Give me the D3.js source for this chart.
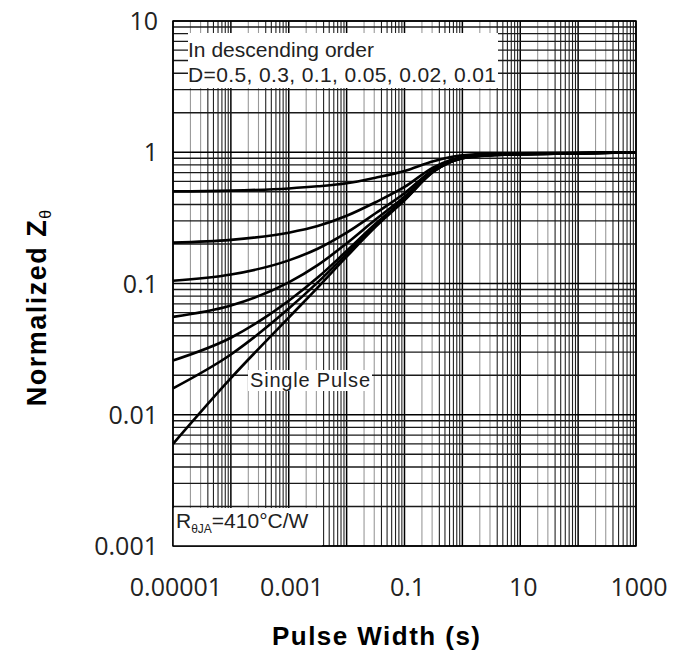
<!DOCTYPE html>
<html>
<head>
<meta charset="utf-8">
<script src="https://cdn.jsdelivr.net/npm/d3@7"></script>
<style>
  body { margin: 0; background: #fff; }
  .tick { font-family: "Open Sans", sans-serif; font-size: 25px; fill: #222; }
  .title { font-family: "Liberation Sans", Arial, sans-serif; font-weight: bold; fill: #000; }
  .note { font-family: "Liberation Sans", Arial, sans-serif; fill: #222; }
</style>
</head>
<body>
<script>
// pulse width (s) and normalized Z
var pulseWidth = [1e-5, 1e-4, 1e-3, 0.00316, 0.01, 0.0316, 0.1, 0.316, 1, 3.16, 10, 100, 1000]
var zD050 = [0.503, 0.51, 0.53, 0.55, 0.58, 0.64, 0.72, 0.855, 0.95, 0.975, 0.98, 0.99, 1.0]
var zD030 = [0.205, 0.215, 0.244, 0.274, 0.328, 0.416, 0.544, 0.768, 0.92, 0.96, 0.972, 0.984, 1.0]
var zD010 = [0.105, 0.117, 0.15, 0.184, 0.244, 0.343, 0.487, 0.739, 0.91, 0.955, 0.969, 0.982, 1.0]
var zD005 = [0.0557, 0.068, 0.102, 0.138, 0.202, 0.307, 0.459, 0.725, 0.905, 0.953, 0.967, 0.981, 1.0]
var zD002 = [0.0259, 0.0386, 0.0739, 0.111, 0.177, 0.285, 0.441, 0.716, 0.902, 0.951, 0.966, 0.98, 1.0]
var zD001 = [0.0159, 0.0288, 0.0645, 0.102, 0.168, 0.277, 0.436, 0.713, 0.901, 0.951, 0.965, 0.98, 1.0]
var zSingle = [0.006, 0.019, 0.055, 0.093, 0.16, 0.27, 0.43, 0.71, 0.9, 0.95, 0.965, 0.98, 1.0]

var xTicks = [1e-5, 1e-3, 0.1, 10, 1000]
var xTickLabels = ["0.00001", "0.001", "0.1", "10", "1000"]
var yTicks = [0.001, 0.01, 0.1, 1, 10]
var yTickLabels = ["0.001", "0.01", "0.1", "1", "10"]
var legendLines = ["In descending order", "D=0.5, 0.3, 0.1, 0.05, 0.02, 0.01"]

var margin = { top: 21, left: 173 },
    width = 463,
    height = 525

var svg = d3.select("body").append("svg")
    .attr("width", 689)
    .attr("height", 657)

var g = svg.append("g")
    .attr("transform", "translate(" + margin.left + "," + margin.top + ")")

var x = d3.scaleLog().domain([1e-5, 1000]).range([0, width])
var y = d3.scaleLog().domain([0.001, 10]).range([height, 0])

function isMajor(v) { return Math.abs(Math.log10(v) - Math.round(Math.log10(v))) < 1e-9 }
function lead(v) { return Math.round(v / Math.pow(10, Math.floor(Math.log10(v) + 1e-9))) }

// grid
g.selectAll(".vgrid")
    .data(x.ticks())
    .enter().append("line")
    .attr("class", "vgrid")
    .attr("x1", function(d) { return x(d) }).attr("x2", function(d) { return x(d) })
    .attr("y1", 0).attr("y2", height)
    .attr("stroke", function(d) { return isMajor(d) ? "#000" : (lead(d) < 4 ? "#999" : "#222") })
    .attr("stroke-width", function(d) { return isMajor(d) ? 1.5 : 1.1 })

g.selectAll(".hgrid")
    .data(y.ticks())
    .enter().append("line")
    .attr("class", "hgrid")
    .attr("y1", function(d) { return y(d) }).attr("y2", function(d) { return y(d) })
    .attr("x1", 0).attr("x2", width)
    .attr("stroke", function(d) { return isMajor(d) ? "#000" : "#1a1a1a" })
    .attr("stroke-width", function(d) { return isMajor(d) ? 1.5 : 1.3 })

// white label boxes
g.append("rect").attr("x", 15).attr("y", 12).attr("width", 310).attr("height", 55).attr("fill", "#fff")
g.append("rect").attr("x", 75).attr("y", 349).attr("width", 124).attr("height", 21).attr("fill", "#fff")
g.append("rect").attr("x", 0).attr("y", 487).attr("width", 149).attr("height", height - 487).attr("fill", "#fff")

// curves
var series = [zD050, zD030, zD010, zD005, zD002, zD001, zSingle]
var line = d3.line()
    .x(function(d, i) { return x(pulseWidth[i]) })
    .y(function(d) { return y(d) })
    .curve(d3.curveMonotoneX)

g.selectAll(".curve")
    .data(series)
    .enter().append("path")
    .attr("class", "curve")
    .attr("d", line)
    .attr("fill", "none")
    .attr("stroke", "#000")
    .attr("stroke-width", 2.6)

g.append("rect")
    .attr("width", width).attr("height", height)
    .attr("fill", "none").attr("stroke", "#000").attr("stroke-width", 1.5)

// tick labels
svg.selectAll(".ylab")
    .data(yTicks)
    .enter().append("text")
    .attr("class", "tick ylab")
    .attr("x", 158)
    .attr("y", function(d) { return margin.top + y(d) + 9 })
    .style("text-anchor", "end")
    .text(function(d, i) { return yTickLabels[i] })

svg.selectAll(".xlab")
    .data(xTicks)
    .enter().append("text")
    .attr("class", "tick xlab")
    .attr("x", function(d) { return margin.left + x(d) + 3 })
    .attr("y", 596)
    .style("text-anchor", "middle")
    .text(function(d, i) { return xTickLabels[i] })

// axis titles
svg.append("text")
    .attr("class", "title")
    .attr("x", 376).attr("y", 645)
    .style("font-size", "26px")
    .style("text-anchor", "middle")
    .attr("textLength", 208)
    .text("Pulse Width (s)")

var yt = svg.append("text")
    .attr("class", "title")
    .attr("transform", "translate(46,308) rotate(-90)")
    .style("font-size", "27px")
    .style("text-anchor", "middle")
yt.append("tspan").style("letter-spacing", "1.5px").text("Normalized Z")
yt.append("tspan").attr("dy", 5).style("font-size", "16px").style("font-weight", "normal").text("θ")

// notes inside plot
g.selectAll(".legend")
    .data(legendLines)
    .enter().append("text")
    .attr("class", "note legend")
    .attr("x", 15)
    .attr("y", function(d, i) { return 36 + i * 25 })
    .style("font-size", "21px")
    .attr("textLength", function(d, i) { return i ? 308 : 186 })
    .text(function(d) { return d })

g.append("text")
    .attr("class", "note")
    .attr("x", 77).attr("y", 366)
    .style("font-size", "20px")
    .attr("textLength", 120)
    .text("Single Pulse")

var rt = g.append("text")
    .attr("class", "note")
    .attr("x", 3).attr("y", 507)
    .style("font-size", "21px")
rt.append("tspan").text("R")
rt.append("tspan").attr("dy", 5).style("font-size", "12px").text("θJA")
rt.append("tspan").attr("dy", -5).text("=410°C/W")
</script>
</body>
</html>
